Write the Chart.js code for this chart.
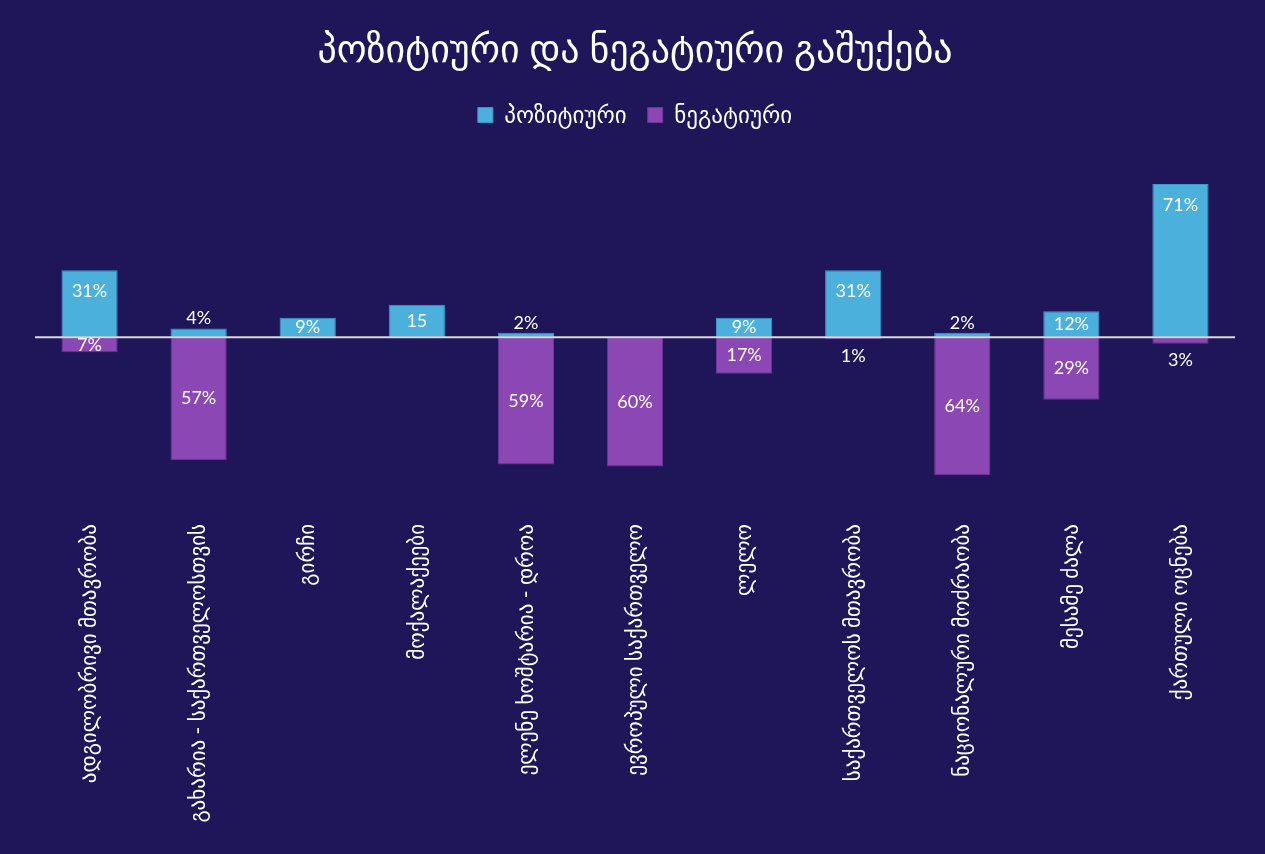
<!DOCTYPE html>
<html>
<head>
<meta charset="utf-8">
<script src="https://cdn.jsdelivr.net/npm/chart.js@4/dist/chart.umd.min.js"></script>
<style>
  html, body { margin: 0; padding: 0; background: #1f165a; }
  #wrap { width: 1265px; height: 854px; }
</style>
</head>
<body>
<div id="wrap"><canvas id="coverageChart"></canvas></div>
<script>
const categories = [
  "ადგილობრივი მთავრობა",
  "გახარია - საქართველოსთვის",
  "გირჩი",
  "მოქალაქეები",
  "ელენე ხოშტარია - დროა",
  "ევროპული საქართველო",
  "ლელო",
  "საქართველოს მთავრობა",
  "ნაციონალური მოძრაობა",
  "მესამე ძალა",
  "ქართული ოცნება"
];
const positive = [31, 4, 9, 15, 2, null, 9, 31, 2, 12, 71];
const negative = [-7, -57, null, null, -59, -60, -17, -1, -64, -29, -3];
const positiveLabels = ["31%", "4%", "9%", "15", "2%", null, "9%", "31%", "2%", "12%", "71%"];
const negativeLabels = ["7%", "57%", null, null, "59%", "60%", "17%", "1%", "64%", "29%", "3%"];

const txt = "#ffffff";
const fontStack = "Lato, 'DejaVu Sans', sans-serif";

// zero line + value labels
const extras = {
  id: "extras",
  afterDatasetsDraw(chart) {
    const { ctx, chartArea, scales } = chart;
    const y0 = scales.y.getPixelForValue(0);
    ctx.save();
    ctx.strokeStyle = "#d9d9d9";
    ctx.lineWidth = 2;
    ctx.beginPath();
    ctx.moveTo(chartArea.left, y0);
    ctx.lineTo(chartArea.right, y0);
    ctx.stroke();

    ctx.fillStyle = txt;
    ctx.font = "18px " + fontStack;
    ctx.textAlign = "center";
    ctx.textBaseline = "middle";
    [positiveLabels, negativeLabels].forEach((labels, di) => {
      chart.getDatasetMeta(di).data.forEach((bar, i) => {
        const t = labels[i];
        if (!t) return;
        const p = bar.getProps(["x", "y", "base"], true);
        const h = Math.abs(p.base - p.y);
        let ly;
        if (di === 0) {
          if (h > 40) ly = p.y + 21;
          else if (h > 16) ly = (p.y + p.base) / 2;
          else ly = p.y - 10;
        } else {
          if (h > 12) ly = (p.y + p.base) / 2;
          else ly = p.y + 17;
        }
        ctx.fillText(t, p.x, ly);
      });
    });
    ctx.restore();
  }
};

new Chart(document.getElementById("coverageChart"), {
  type: "bar",
  data: {
    labels: categories,
    datasets: [{
      label: "პოზიტიური",
      data: positive,
      backgroundColor: "#4cb0dc",
      borderColor: "#3d9bc8",
      borderWidth: 1,
      borderSkipped: false
    }, {
      label: "ნეგატიური",
      data: negative,
      backgroundColor: "#8b47b4",
      borderColor: "#6f3596",
      borderWidth: 1,
      borderSkipped: false
    }]
  },
  options: {
    responsive: true,
    maintainAspectRatio: false,
    animation: false,
    layout: { padding: { left: 35, right: 30, top: 0, bottom: 0 } },
    datasets: { bar: { categoryPercentage: 1, barPercentage: 0.515 } },
    scales: {
      x: {
        stacked: true,
        grid: { display: false },
        border: { display: false },
        afterFit: (scale) => { scale.height = 340; },
        ticks: {
          color: txt,
          minRotation: 90,
          maxRotation: 90,
          autoSkip: false,
          padding: 2,
          font: { family: fontStack, size: 21 }
        }
      },
      y: {
        stacked: true,
        display: false,
        min: -82,
        max: 93
      }
    },
    plugins: {
      title: {
        display: true,
        text: "პოზიტიური და ნეგატიური გაშუქება",
        color: txt,
        font: { family: fontStack, size: 38, weight: "normal" },
        padding: { top: 27, bottom: 10 }
      },
      legend: {
        display: true,
        labels: {
          color: txt,
          boxWidth: 15,
          boxHeight: 15,
          padding: 21,
          font: { family: fontStack, size: 23 }
        }
      },
      tooltip: { enabled: false }
    }
  },
  plugins: [extras]
});
</script>
</body>
</html>
